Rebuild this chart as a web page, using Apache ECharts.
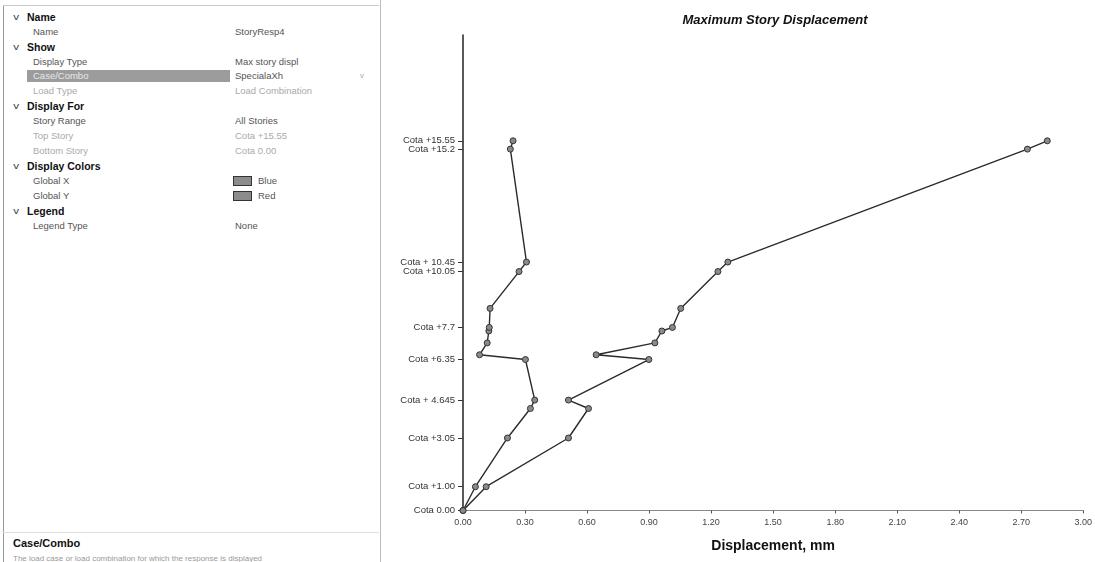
<!DOCTYPE html>
<html>
<head>
<meta charset="utf-8">
<script src="https://cdn.jsdelivr.net/npm/echarts@6/dist/echarts.min.js"></script>
<style>
  html, body { margin:0; padding:0; background:#fff; }
  body { width:1095px; height:562px; position:relative; overflow:hidden; font-family:"Liberation Sans", Arial, sans-serif; }
  #panel { position:absolute; left:0; top:0; width:381px; height:562px; }
  .row { position:absolute; height:14px; line-height:14px; font-size:9.5px; color:#555; white-space:nowrap; }
  .hdr { font-weight:bold; color:#111; font-size:10.5px; }
  .dim { color:#aaa; }
  .chev { position:absolute; left:14px; font-size:9px; color:#444; transform:scaleX(1.3); }
  #chart { position:absolute; left:384px; top:0; width:711px; height:562px; }
</style>
</head>
<body>
<div id="panel"></div>
<div id="chart"></div>
<script>
// ---------- data ----------
const propRows = [
  ["h", "Name", ""],
  ["n", "Name", "StoryResp4"],
  ["h", "Show", ""],
  ["n", "Display Type", "Max story displ"],
  ["s", "Case/Combo", "SpecialaXh"],
  ["d", "Load Type", "Load Combination"],
  ["h", "Display For", ""],
  ["n", "Story Range", "All Stories"],
  ["d", "Top Story", "Cota +15.55"],
  ["d", "Bottom Story", "Cota 0.00"],
  ["h", "Display Colors", ""],
  ["c", "Global X", "Blue"],
  ["c", "Global Y", "Red"],
  ["h", "Legend", ""],
  ["n", "Legend Type", "None"]
];
const chartTitle = "Maximum Story Displacement";
const xAxisTitle = "Displacement, mm";
const storyHeights = [0, 1.00, 3.05, 4.645, 6.35, 7.7, 10.05, 10.45, 15.2, 15.55];
const storyLabels = ["Cota 0.00", "Cota +1.00", "Cota +3.05", "Cota + 4.645", "Cota +6.35",
                     "Cota +7.7", "Cota +10.05", "Cota + 10.45", "Cota +15.2", "Cota +15.55"];
const pointHeights = [0, 1.00, 3.05, 4.29, 4.645, 6.35, 6.55, 7.05, 7.55, 7.7, 8.5, 10.05, 10.45, 15.2, 15.55];
const globalX = [0, 0.060, 0.215, 0.326, 0.347, 0.302, 0.080, 0.117, 0.125, 0.127, 0.131, 0.271, 0.307, 0.229, 0.242];
const globalY = [0, 0.112, 0.510, 0.607, 0.510, 0.899, 0.644, 0.928, 0.962, 1.013, 1.053, 1.233, 1.281, 2.730, 2.826];

// ---------- property panel ----------
const panel = document.getElementById('panel');
function add(html, style, cls) {
  const d = document.createElement('div');
  d.className = cls || '';
  d.innerHTML = html;
  d.setAttribute('style', style);
  panel.appendChild(d);
  return d;
}
add('', 'position:absolute;left:3px;top:5px;width:1px;height:557px;background:#999;');
add('', 'position:absolute;left:3px;top:5px;width:376px;height:1px;background:#ccc;');
add('', 'position:absolute;left:380px;top:0;width:1px;height:562px;background:#bbb;');
propRows.forEach((r, i) => {
  const cy = 16.7 + i * 14.93;
  const top = (cy - 7).toFixed(1);
  const [kind, label, value] = r;
  if (kind === 'h') {
    add('v', 'top:' + top + 'px;', 'row chev');
    add(label, 'left:27px;top:' + top + 'px;', 'row hdr');
  } else {
    if (kind === 's') {
      add('', 'position:absolute;left:27px;top:' + (cy - 6).toFixed(1) + 'px;width:203px;height:12px;background:#9c9c9c;');
      add(label, 'left:33px;top:' + top + 'px;color:#e8e8e8;', 'row');
      add('v', 'left:360px;top:' + top + 'px;color:#aaa;font-size:8px;', 'row');
    } else {
      add(label, 'left:33px;top:' + top + 'px;', 'row' + (kind === 'd' ? ' dim' : ''));
    }
    if (kind === 'c') {
      add('', 'position:absolute;left:233px;top:' + (cy - 4.5).toFixed(1) + 'px;width:17px;height:8px;background:#8c8c8c;border:1px solid #333;');
      add(value, 'left:258px;top:' + top + 'px;', 'row');
    } else {
      add(value, 'left:235px;top:' + top + 'px;', 'row' + (kind === 'd' ? ' dim' : ''));
    }
  }
});
add('', 'position:absolute;left:3px;top:532px;width:376px;height:1px;background:#ddd;');
add('Case/Combo', 'left:13px;top:536px;font-weight:bold;color:#111;font-size:11px;', 'row');
add('The load case or load combination for which the response is displayed', 'left:13px;top:552px;color:#999;font-size:8px;', 'row');

// ---------- chart ----------
const chart = echarts.init(document.getElementById('chart'), null, { renderer: 'canvas' });
const mk = (xs) => xs.map((x, i) => [x, pointHeights[i]]);
const seriesStyle = {
  type: 'line',
  symbol: 'circle',
  symbolSize: 6,
  lineStyle: { color: '#2b2b2b', width: 1.4 },
  itemStyle: { color: '#8a8a8a', borderColor: '#333', borderWidth: 1 },
  animation: false
};
const storyLabelFmt = v => { const i = storyHeights.findIndex(h => Math.abs(h - v) < 1e-6); return i >= 0 ? storyLabels[i] : ''; };
// split story ticks across two overlaid axes so close labels are not hidden
const mainTicks = storyHeights.filter((h, i) => i !== storyHeights.length - 2);
const extraTicks = [storyHeights[storyHeights.length - 2]];
const yBase = (vals, showLine) => ({
  type: 'value', min: 0, max: 20, position: 'left',
  axisLine: { show: showLine, onZero: false, lineStyle: { color: '#222', width: 1.5 } },
  axisTick: { show: true, length: 5, customValues: vals, lineStyle: { color: '#333' } },
  axisLabel: {
    show: true, customValues: vals, fontSize: 9.5, color: '#333', margin: 8,
    hideOverlap: false, fontFamily: 'Liberation Sans', formatter: storyLabelFmt
  },
  splitLine: { show: false }
});
chart.setOption({
  backgroundColor: '#fff',
  animation: false,
  title: {
    text: chartTitle,
    left: 386, top: 9, textAlign: 'center',
    textStyle: { fontFamily: 'Liberation Sans', fontWeight: 'bold', fontStyle: 'italic', fontSize: 13, color: '#111' }
  },
  grid: { left: 79, right: 8, top: 35, bottom: 51.5, containLabel: false },
  xAxis: {
    type: 'value', min: 0, max: 3, interval: 0.3,
    name: xAxisTitle, nameLocation: 'middle', nameGap: 29,
    nameTextStyle: { fontFamily: 'Liberation Sans', fontWeight: 'bold', fontSize: 14, color: '#111' },
    axisLine: { show: true, lineStyle: { color: '#888', width: 1 } },
    axisTick: { show: true, length: 3, lineStyle: { color: '#555' } },
    axisLabel: { fontSize: 9, color: '#444', margin: 8, fontFamily: 'Liberation Sans', formatter: v => v.toFixed(2) },
    splitLine: { show: false }
  },
  yAxis: [yBase(mainTicks, true), Object.assign(yBase(extraTicks, false), { offset: 0 })],
  series: [
    Object.assign({ name: 'Global X', data: mk(globalX), yAxisIndex: 0 }, seriesStyle),
    Object.assign({ name: 'Global Y', data: mk(globalY), yAxisIndex: 0 }, seriesStyle)
  ]
});
</script>
</body>
</html>
